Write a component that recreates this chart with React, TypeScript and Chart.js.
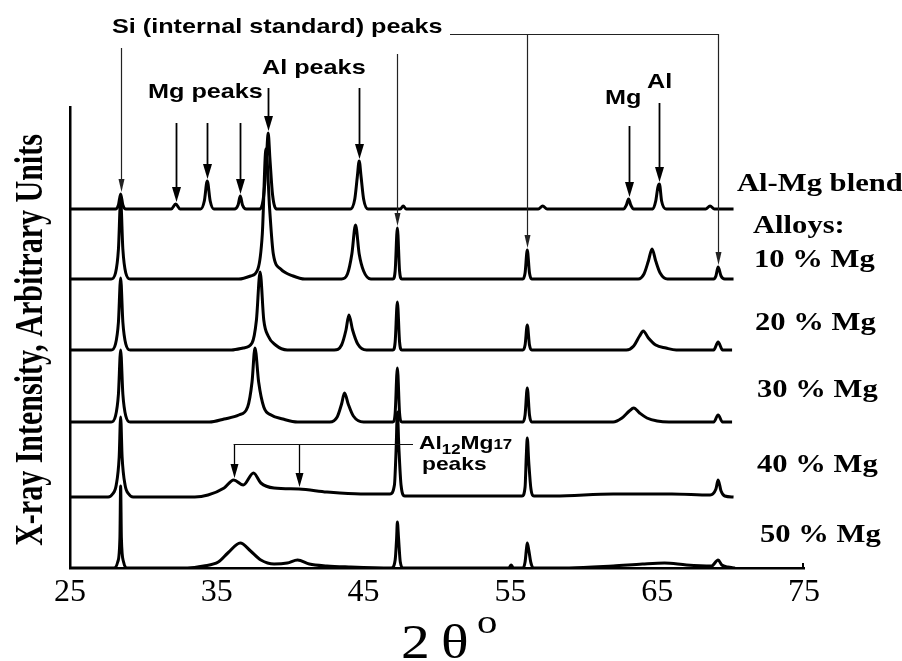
import React, { useEffect, useRef } from 'react';
import { Chart, registerables } from 'chart.js';
Chart.register(...registerables);

// ---- data (2θ in degrees, intensity in arbitrary units above each trace's baseline) ----
const xTicks = [25, 35, 45, 55, 65, 75];
const traceNames = ['Al-Mg blend', '10 % Mg', '20 % Mg', '30 % Mg', '40 % Mg', '50 % Mg'];
const traceOffsets = [359, 289, 218, 146, 71, 0];

const blend: [number, number][] = [[25.0,0],[28.1,0],[28.3,4],[28.45,15],[28.6,4],[28.8,0],[31.9,0],[32.2,5],[32.5,0],[33.9,0],[34.15,8],[34.35,28],[34.55,8],[34.8,0],[36.2,0],[36.45,4],[36.6,13],[36.75,4],[37.0,0],[37.9,0],[38.2,14],[38.38,50],[38.5,76],[38.62,50],[38.8,14],[39.1,0],[44.1,0],[44.4,10],[44.57,32],[44.7,48],[44.83,32],[45.0,10],[45.3,0],[47.5,0],[47.7,3],[47.9,0],[56.9,0],[57.2,3],[57.5,0],[62.7,0],[62.9,4],[63.05,10],[63.2,4],[63.4,0],[64.7,0],[64.9,8],[65.05,22],[65.15,25],[65.3,8],[65.6,0],[68.3,0],[68.6,3],[68.9,0],[70.2,0]];

const mg10: [number, number][] = [[25,0],[27.8,0],[28.1,6],[28.3,30],[28.45,79],[28.6,30],[28.8,6],[29.1,0],[36.5,0],[37.3,3],[37.8,10],[38.1,45],[38.35,130],[38.6,70],[38.85,25],[39.35,10],[40.2,3],[41.0,0],[43.5,0],[43.9,5],[44.2,25],[44.45,54],[44.7,25],[45.0,8],[45.5,0],[47.0,0],[47.15,8],[47.3,51],[47.45,8],[47.6,0],[55.85,0],[56.0,6],[56.15,29],[56.3,6],[56.45,0],[63.7,0],[64.1,5],[64.4,18],[64.65,30],[64.9,18],[65.2,6],[65.7,0],[68.85,0],[69.0,3],[69.15,12],[69.35,3],[69.6,0],[70.2,0]];

const mg20: [number, number][] = [[25,0],[27.8,0],[28.1,6],[28.3,28],[28.45,72],[28.6,28],[28.8,6],[29.1,0],[36.0,0],[36.8,2],[37.4,7],[37.7,30],[37.95,78],[38.2,30],[38.5,14],[39.0,5],[39.8,0],[43.0,0],[43.5,5],[43.8,20],[44.0,35],[44.25,20],[44.6,6],[45.2,0],[47.0,0],[47.15,8],[47.3,48],[47.45,8],[47.6,0],[55.85,0],[56.0,5],[56.15,25],[56.3,5],[56.45,0],[62.9,0],[63.4,4],[63.8,14],[64.05,19],[64.4,12],[64.9,5],[65.6,2],[66.3,0],[68.85,0],[69.15,8],[69.45,0],[70.1,0]];

const mg30: [number, number][] = [[25,0],[27.8,0],[28.1,6],[28.3,28],[28.45,72],[28.6,28],[28.8,6],[29.1,0],[34.5,0],[35.5,3],[36.5,7],[37.1,15],[37.4,40],[37.6,74],[37.85,40],[38.2,15],[38.7,7],[39.5,3],[40.5,0],[42.7,0],[43.2,5],[43.5,18],[43.7,29],[43.95,18],[44.3,6],[45.0,0],[47.0,0],[47.15,9],[47.3,54],[47.45,9],[47.6,0],[55.85,0],[56.0,7],[56.15,34],[56.3,7],[56.45,0],[62.0,0],[62.6,4],[63.1,11],[63.4,14],[63.8,9],[64.3,4],[65.0,1],[65.8,0],[68.85,0],[69.15,7],[69.45,0],[70.1,0]];

const mg40: [number, number][] = [[25,0],[27.6,0],[27.9,3],[28.15,12],[28.35,40],[28.45,80],[28.55,40],[28.75,12],[29.0,3],[29.3,0],[33.5,0],[34.4,2],[35.5,9],[36.15,17],[36.8,12],[37.5,24],[38.0,14],[38.9,9],[40.6,8],[42.5,5],[44.8,3],[46.8,3],[47.1,12],[47.22,50],[47.3,85],[47.4,50],[47.55,12],[47.8,1],[55.8,1],[56.0,10],[56.08,40],[56.15,59],[56.25,35],[56.4,8],[56.6,1],[58.0,1],[62.0,3],[66.0,3],[68.6,2],[69.0,8],[69.15,17],[69.35,6],[69.6,1],[70.2,0]];

const mg50: [number, number][] = [[25,0],[28.0,0],[28.25,6],[28.4,30],[28.45,82],[28.5,30],[28.65,6],[28.9,0],[33.0,0],[34.1,2],[35.1,6],[35.75,15],[36.6,25],[37.3,17],[38.0,8],[38.9,4],[39.8,5],[40.5,8],[41.3,4],[42.5,2],[44.0,1],[46.9,0],[47.15,8],[47.25,30],[47.3,46],[47.38,30],[47.5,6],[47.7,0],[54.9,0],[55.05,3],[55.2,0],[55.85,0],[56.0,6],[56.1,20],[56.15,25],[56.25,18],[56.4,5],[56.6,0],[59.0,0],[62.0,2],[64.0,4],[65.5,5],[67.0,3],[68.7,2],[69.15,8],[69.4,3],[69.8,1],[70.3,0]];

const traces = [blend, mg10, mg20, mg30, mg40, mg50];

// annotation arrows: [2θ, tail (y units), trace index of tip, tip height]
const siArrows: [number, number, number, number][] = [[28.45, 520, 0, 15], [47.3, 514, 1, 51], [56.15, 534, 1, 29], [69.15, 534, 1, 12]];
const alArrows: [number, number, number, number][] = [[38.5, 480, 0, 76], [44.7, 480, 0, 48]];
const mgArrows: [number, number, number, number][] = [[32.2, 445, 0, 5], [34.35, 445, 0, 28], [36.6, 445, 0, 13]];
const rightArrows: [number, number, number, number][] = [[63.05, 442, 0, 10], [65.15, 465, 0, 25]];
const phaseArrows: [number, number, number, number][] = [[36.15, 124, 4, 17], [40.6, 124, 4, 8]];

const SANS = '"Liberation Sans", Arial, sans-serif';
const SERIF = '"Liberation Serif", "Times New Roman", serif';

function txt(ctx: CanvasRenderingContext2D, s: string, px: number, py: number, font: string, sx = 1.2) {
  ctx.save();
  ctx.translate(px, py);
  ctx.scale(sx, 1);
  ctx.font = font;
  ctx.textAlign = 'left';
  ctx.textBaseline = 'alphabetic';
  ctx.fillStyle = '#000';
  ctx.fillText(s, 0, 0);
  const w = ctx.measureText(s).width * sx;
  ctx.restore();
  return w;
}

function arrow(ctx: CanvasRenderingContext2D, x: number, y0: number, y1: number, lw: number, hw: number, hl: number, color: string) {
  ctx.save();
  ctx.strokeStyle = color;
  ctx.fillStyle = color;
  ctx.lineWidth = lw;
  ctx.beginPath();
  ctx.moveTo(x, y0);
  ctx.lineTo(x, y1 - hl + 1);
  ctx.stroke();
  ctx.beginPath();
  ctx.moveTo(x - hw / 2, y1 - hl);
  ctx.lineTo(x + hw / 2, y1 - hl);
  ctx.lineTo(x, y1);
  ctx.closePath();
  ctx.fill();
  ctx.restore();
}

const annotPlugin = {
  id: 'annot',
  afterDatasetsDraw(chart: any) {
    const ctx: CanvasRenderingContext2D = chart.ctx;
    const xs = chart.scales.x;
    const ys = chart.scales.y;
    const tip = (t: number, h: number) => ys.getPixelForValue(traceOffsets[t] + h) - 2;
    const draw = (list: [number, number, number, number][], lw: number, hw: number, hl: number, c: string) => {
      list.forEach(([a, tail, t, h]) => arrow(ctx, Math.round(xs.getPixelForValue(a)) + 0.5, ys.getPixelForValue(tail), tip(t, h), lw, hw, hl, c));
    };
    // Si group
    draw(siArrows, 1.2, 6, 13, '#222');
    ctx.save();
    ctx.strokeStyle = '#222';
    ctx.lineWidth = 1.2;
    ctx.beginPath();
    const hy = Math.round(ys.getPixelForValue(534)) + 0.5;
    ctx.moveTo(450, hy);
    ctx.lineTo(Math.round(xs.getPixelForValue(69.15)) + 1, hy);
    ctx.stroke();
    ctx.restore();
    draw(alArrows, 1.8, 9, 15, '#000');
    draw(mgArrows, 1.8, 9, 15, '#000');
    draw(rightArrows, 1.8, 9, 15, '#000');
    draw(phaseArrows, 1.3, 8, 14, '#000');
    ctx.save();
    ctx.strokeStyle = '#111';
    ctx.lineWidth = 1.2;
    ctx.beginPath();
    const py = Math.round(ys.getPixelForValue(124)) + 0.5;
    ctx.moveTo(xs.getPixelForValue(36.15), py);
    ctx.lineTo(413, py);
    ctx.stroke();
    // end tick at 75
    ctx.lineWidth = 2;
    ctx.strokeStyle = '#000';
    const ex = xs.getPixelForValue(75);
    ctx.beginPath();
    ctx.moveTo(ex - 1, ys.getPixelForValue(0));
    ctx.lineTo(ex - 1, ys.getPixelForValue(0) - 5);
    ctx.stroke();
    ctx.restore();

    // sans labels
    const sb = `bold 21px ${SANS}`;
    txt(ctx, 'Si (internal standard) peaks', 112, 33, sb);
    txt(ctx, 'Al peaks', 262, 74, sb);
    txt(ctx, 'Mg peaks', 148, 98, sb);
    txt(ctx, 'Mg', 605, 104, sb);
    txt(ctx, 'Al', 647, 88, sb);
    let cx = 419;
    cx += txt(ctx, 'Al', cx, 449, `bold 19px ${SANS}`);
    cx += txt(ctx, '12', cx, 454, `bold 14px ${SANS}`);
    cx += txt(ctx, 'Mg', cx, 449, `bold 19px ${SANS}`);
    txt(ctx, '17', cx, 449, `bold 14px ${SANS}`);
    txt(ctx, 'peaks', 422, 470, `bold 19px ${SANS}`);

    // serif labels on the right
    const rf = `bold 25.5px ${SERIF}`;
    txt(ctx, traceNames[0], 737, 191, rf);
    txt(ctx, 'Alloys:', 753, 233, rf);
    txt(ctx, traceNames[1], 754, 267, rf);
    txt(ctx, traceNames[2], 755, 330, rf);
    txt(ctx, traceNames[3], 757, 397, rf);
    txt(ctx, traceNames[4], 757, 472, rf);
    txt(ctx, traceNames[5], 760, 542, rf);

    // y title
    ctx.save();
    ctx.translate(42, 340);
    ctx.rotate(-Math.PI / 2);
    ctx.scale(1, 1.3);
    ctx.font = `bold 30px ${SERIF}`;
    ctx.textAlign = 'center';
    ctx.textBaseline = 'alphabetic';
    ctx.fillStyle = '#000';
    ctx.fillText('X-ray Intensity, Arbitrary Units', 0, 0);
    ctx.restore();

    // x title
    txt(ctx, '2', 401, 658, `48px ${SERIF}`);
    txt(ctx, 'θ', 441, 658, `48px ${SERIF}`);
    txt(ctx, 'o', 477, 633, `34px ${SERIF}`);
  },
};

export default function App() {
  const ref = useRef<HTMLCanvasElement | null>(null);
  useEffect(() => {
    if (!ref.current) return;
    const datasets = traces.map((t, i) => ({
      label: traceNames[i],
      data: t.map(([a, b]) => ({ x: a, y: b + traceOffsets[i] })),
      borderColor: '#000',
      borderWidth: 3,
      pointRadius: 0,
      fill: false,
      cubicInterpolationMode: 'monotone' as const,
    }));
    const chart = new Chart(ref.current, {
      type: 'line',
      data: { datasets },
      plugins: [annotPlugin],
      options: {
        responsive: false,
        animation: false,
        parsing: false as any,
        normalized: true,
        layout: { padding: { left: 70, top: 107, right: 98, bottom: 44.6 } },
        plugins: { legend: { display: false }, tooltip: { enabled: false } },
        scales: {
          x: {
            type: 'linear',
            min: 25,
            max: 75,
            afterBuildTicks: (s: any) => { s.ticks = xTicks.map((v) => ({ value: v })); },
            grid: { display: false, drawTicks: false },
            border: { display: true, color: '#000', width: 2.5 },
            ticks: { color: '#000', font: { family: SERIF, size: 32 }, padding: 5, maxRotation: 0, autoSkip: false },
          },
          y: {
            type: 'linear',
            min: 0,
            max: 461,
            grid: { display: false, drawTicks: false },
            border: { display: true, color: '#000', width: 2.5 },
            ticks: { display: false },
          },
        },
      } as any,
    });
    return () => chart.destroy();
  }, []);
  return (
    <div style={{ position: 'fixed', left: 0, top: 0, width: 902, height: 661, background: '#fff' }}>
      <canvas ref={ref} width={902} height={661} style={{ display: 'block' }} />
    </div>
  );
}
